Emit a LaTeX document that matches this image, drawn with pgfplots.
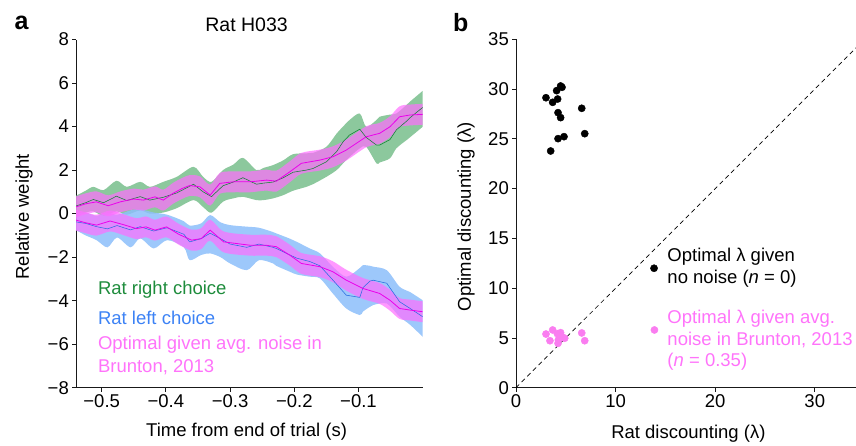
\documentclass[border=0pt]{standalone}
\usepackage{fontspec}
\setmainfont{Liberation Sans}
\usepackage{pgfplots}
\pgfplotsset{compat=1.18}
\usepgfplotslibrary{fillbetween}
\usepackage{pgfplotstable}

\definecolor{gband}{RGB}{120,190,140}
\definecolor{bband}{RGB}{140,190,250}
\definecolor{mband}{RGB}{255,110,255}
\definecolor{gline}{RGB}{20,125,55}
\definecolor{bline}{RGB}{40,110,225}
\definecolor{mline}{RGB}{235,0,235}
\definecolor{gtext}{RGB}{30,140,60}
\definecolor{btext}{RGB}{60,130,245}
\definecolor{mtext}{RGB}{255,115,250}
\definecolor{pdot}{RGB}{250,125,240}
\definecolor{axc}{RGB}{25,25,25}

% Rat right choice: x, upper, lower, mean
\pgfplotstableread{
x u l m
-0.54 0.82 -0.15 0.35
-0.525 1.05 0.05 0.50
-0.513 1.23 0.10 0.65
-0.497 1.08 -0.10 0.50
-0.477 1.51 0.10 0.80
-0.461 1.23 -0.05 0.60
-0.44 1.46 0.15 0.78
-0.425 1.23 0.00 0.62
-0.404 1.46 0.05 0.75
-0.383 1.69 0.25 0.95
-0.357 2.15 0.62 1.35
-0.342 1.69 0.30 1.00
-0.329 1.46 0.04 0.78
-0.311 2.00 0.55 1.28
-0.295 2.25 0.70 1.45
-0.28 2.56 0.77 1.65
-0.259 2.00 0.62 1.35
-0.248 2.10 0.62 1.40
-0.233 2.23 0.70 1.45
-0.217 2.45 0.85 1.65
-0.202 2.73 1.05 1.90
-0.181 2.77 1.23 2.00
-0.171 2.79 1.35 2.07
-0.15 3.07 1.69 2.38
-0.134 3.68 2.00 2.85
-0.124 4.00 2.31 3.30
-0.114 4.30 2.60 3.61
-0.098 4.60 3.00 3.88
-0.088 3.99 3.07 3.50
-0.072 4.30 2.31 3.15
-0.067 4.45 2.35 3.15
-0.051 4.55 2.54 3.40
-0.041 4.60 3.00 3.85
-0.025 5.00 3.38 4.25
-0.02 5.14 3.50 4.40
0 5.64 3.99 4.88
}\greenT

% Rat left choice: x, upper, lower, mean
\pgfplotstableread{
x u l m
-0.54 0.00 -0.76 -0.38
-0.525 0.05 -1.00 -0.45
-0.508 -0.10 -1.22 -0.60
-0.491 0.05 -1.55 -0.70
-0.476 -0.05 -1.10 -0.55
-0.455 0.15 -1.55 -0.75
-0.44 0.20 -1.14 -0.60
-0.419 0.05 -1.60 -0.80
-0.398 -0.05 -1.22 -0.65
-0.372 -0.35 -1.55 -0.95
-0.363 -0.55 -2.14 -1.30
-0.345 -0.45 -1.90 -1.15
-0.331 -0.07 -1.83 -0.90
-0.315 -0.40 -2.00 -1.15
-0.30 -0.53 -2.29 -1.40
-0.274 -0.60 -2.60 -1.55
-0.255 -0.65 -2.14 -1.40
-0.233 -0.85 -2.29 -1.55
-0.228 -0.91 -2.40 -1.60
-0.207 -1.15 -2.67 -1.90
-0.196 -1.30 -2.80 -2.05
-0.176 -1.60 -2.90 -2.20
-0.16 -1.83 -2.98 -2.40
-0.14 -2.44 -3.67 -3.05
-0.119 -2.90 -4.36 -3.75
-0.098 -2.50 -4.66 -3.85
-0.093 -2.37 -4.50 -3.40
-0.082 -2.40 -4.28 -3.10
-0.077 -2.44 -4.20 -3.06
-0.056 -2.60 -4.13 -3.20
-0.036 -3.36 -4.74 -4.05
-0.02 -3.60 -5.10 -4.35
0 -3.98 -5.66 -4.74
}\blueT

% Optimal (right): x, upper, lower, mean
\pgfplotstableread{
x u l m
-0.54 0.79 -0.17 0.31
-0.525 0.93 -0.03 0.45
-0.508 1.02 0.06 0.54
-0.49 0.84 -0.12 0.36
-0.471 1.02 0.06 0.54
-0.45 1.15 0.19 0.67
-0.435 1.10 0.14 0.62
-0.417 1.25 0.29 0.77
-0.404 1.10 0.14 0.62
-0.389 1.41 0.45 0.93
-0.375 1.63 0.67 1.15
-0.363 1.77 0.81 1.29
-0.347 1.71 0.75 1.23
-0.331 1.33 0.37 0.85
-0.316 1.87 0.91 1.39
-0.295 1.94 0.98 1.46
-0.269 1.94 0.98 1.46
-0.243 2.02 1.06 1.54
-0.228 1.97 1.01 1.49
-0.207 2.40 1.44 1.92
-0.189 2.79 1.83 2.31
-0.16 2.94 1.98 2.46
-0.14 3.09 2.13 2.61
-0.119 3.40 2.44 2.92
-0.088 4.01 3.05 3.53
-0.067 4.17 3.21 3.69
-0.051 4.47 3.51 3.99
-0.036 4.93 3.97 4.45
-0.02 5.01 4.05 4.53
0 5.04 4.08 4.56
}\optR

% Optimal (left): x, upper, lower, mean
\pgfplotstableread{
x u l m
-0.54 0.18 -0.78 -0.30
-0.525 0.06 -0.90 -0.42
-0.508 -0.05 -1.01 -0.53
-0.487 0.14 -0.82 -0.34
-0.467 -0.02 -0.98 -0.50
-0.446 -0.21 -1.17 -0.69
-0.431 -0.13 -1.09 -0.61
-0.417 -0.28 -1.24 -0.76
-0.399 -0.13 -1.09 -0.61
-0.38 -0.47 -1.43 -0.95
-0.36 -0.74 -1.70 -1.22
-0.345 -0.67 -1.63 -1.15
-0.331 -0.28 -1.24 -0.76
-0.31 -0.82 -1.78 -1.30
-0.27 -0.97 -1.93 -1.45
-0.245 -0.97 -1.93 -1.45
-0.228 -1.04 -2.00 -1.52
-0.207 -1.43 -2.39 -1.91
-0.189 -1.81 -2.77 -2.29
-0.16 -1.96 -2.92 -2.44
-0.14 -2.19 -3.15 -2.67
-0.119 -2.58 -3.54 -3.06
-0.093 -2.96 -3.92 -3.44
-0.067 -3.19 -4.15 -3.67
-0.051 -3.50 -4.46 -3.98
-0.036 -3.88 -4.84 -4.36
-0.02 -3.95 -4.91 -4.43
0 -4.03 -4.99 -4.51
}\optL

\pgfplotsset{
  panel/.style={
    scale only axis,
    axis x line=bottom, axis y line=left,
    axis line style={-, axc, line width=0.8pt},
    tick align=outside, major tick length=4pt,
    tick style={axc, line width=0.8pt},
    every tick label/.append style={text=black},
    yticklabel style={inner sep=3pt},
    xticklabel style={inner sep=3pt},
  }
}

\begin{document}
\begin{tikzpicture}[font=\fontsize{18.5}{22}\selectfont]

\node[font=\fontsize{25}{29}\selectfont\bfseries, inner sep=0] at (21.7pt,421.7pt) {a};
\node[font=\fontsize{25}{29}\selectfont\bfseries, inner sep=0] at (460.7pt,422.5pt) {b};

% ---------- Panel a ----------
\begin{axis}[panel,
  at={(76pt,57.3pt)}, anchor=south west,
  width=346.7pt, height=348.2pt,
  xmin=-0.54, xmax=0, ymin=-8, ymax=8,
  xtick={-0.5,-0.4,-0.3,-0.2,-0.1},
  xticklabels={−0.5,−0.4,−0.3,−0.2,−0.1},
  ytick={-8,-6,-4,-2,0,2,4,6,8},
  yticklabels={−8,−6,−4,−2,0,2,4,6,8},
  xlabel={Time from end of trial (s)},
  ylabel={Relative weight},
  xlabel style={at={(axis description cs:0.492,-0.1264)}, anchor=center},
  ylabel style={at={(axis description cs:-0.15,0.491)}, anchor=center},
  title={Rat H033},
  title style={at={(axis description cs:0.492,1.0244)}, anchor=center, font=\fontsize{19.5}{23}\selectfont},
]
\addplot[name path=gu, draw=none, smooth] table[x=x,y=u] {\greenT};
\addplot[name path=gl, draw=none, smooth] table[x=x,y=l] {\greenT};
\addplot[fill=gband, fill opacity=0.85, draw=none] fill between[of=gu and gl];
\addplot[name path=bu, draw=none, smooth] table[x=x,y=u] {\blueT};
\addplot[name path=bl, draw=none, smooth] table[x=x,y=l] {\blueT};
\addplot[fill=bband, fill opacity=0.85, draw=none] fill between[of=bu and bl];
\addplot[gline, line width=0.55pt] table[x=x,y=m] {\greenT};
\addplot[bline, line width=0.55pt] table[x=x,y=m] {\blueT};
\addplot[name path=ru, draw=none, smooth] table[x=x,y=u] {\optR};
\addplot[name path=rl, draw=none, smooth] table[x=x,y=l] {\optR};
\addplot[fill=mband, fill opacity=0.7, draw=none] fill between[of=ru and rl];
\addplot[name path=lu, draw=none, smooth] table[x=x,y=u] {\optL};
\addplot[name path=ll, draw=none, smooth] table[x=x,y=l] {\optL};
\addplot[fill=mband, fill opacity=0.7, draw=none] fill between[of=lu and ll];
\addplot[mline, line width=0.8pt] table[x=x,y=m] {\optR};
\addplot[mline, line width=0.8pt] table[x=x,y=m] {\optL};

\node[anchor=west, inner sep=0, text=gtext] at (axis cs:-0.506,-3.52) {Rat right choice};
\node[anchor=west, inner sep=0, text=btext] at (axis cs:-0.506,-4.80) {Rat left choice};
\node[anchor=west, inner sep=0, text=mtext] at (axis cs:-0.506,-6.04) {Optimal given avg. noise in};
\node[anchor=west, inner sep=0, text=mtext] at (axis cs:-0.506,-7.05) {Brunton, 2013};
\end{axis}

% ---------- Panel b ----------
\begin{axis}[panel,
  at={(516pt,57.3pt)}, anchor=south west,
  width=340pt, height=348.4pt,
  xmin=0, xmax=34.14, ymin=0, ymax=35,
  xtick={0,10,20,30},
  ytick={0,5,10,15,20,25,30,35},
  /pgf/number format/assume math mode=true,
  xlabel={Rat discounting (λ)},
  ylabel={Optimal discounting (λ)},
  xlabel style={at={(axis description cs:0.507,-0.131)}, anchor=center},
  ylabel style={at={(axis description cs:-0.147,0.491)}, anchor=center},
]
\addplot[black, dash pattern=on 4.5pt off 3.5pt, line width=0.7pt] coordinates {(0,0) (35,35)};
\addplot[only marks, mark=*, mark size=3.6pt, black] coordinates {
(3.01,29.13) (3.68,28.67) (4.08,29.84) (4.48,30.31) (4.62,30.18)
(4.18,29.00) (4.22,27.63) (4.48,27.13) (6.60,28.07) (6.90,25.52)
(4.22,25.02) (4.82,25.22) (3.48,23.78)
};
\addplot[only marks, mark=*, mark size=3.6pt, pdot, mark options={draw=pdot, fill=pdot}] coordinates {
(3.01,5.39) (3.68,5.80) (3.41,4.72) (4.22,4.46) (4.15,5.43)
(4.48,5.53) (4.69,5.06) (4.89,4.97) (4.25,4.80) (6.60,5.50) (6.90,4.72)
};
\addplot[only marks, mark=*, mark size=3.6pt, black] coordinates {(13.86,12.0)};
\addplot[only marks, mark=*, mark size=3.6pt, pdot, mark options={draw=pdot, fill=pdot}] coordinates {(13.9,5.8)};

\node[anchor=west, inner sep=0] at (axis cs:15.19,13.16) {Optimal λ given};
\node[anchor=west, inner sep=0] at (axis cs:15.19,10.99) {no noise (\textit{n} = 0)};
\node[anchor=west, inner sep=0, text=mtext] at (axis cs:15.19,6.97) {Optimal λ given avg.};
\node[anchor=west, inner sep=0, text=mtext] at (axis cs:15.19,4.79) {noise in Brunton, 2013};
\node[anchor=west, inner sep=0, text=mtext] at (axis cs:15.19,2.61) {(\textit{n} = 0.35)};
\end{axis}
\pgfresetboundingbox
\useasboundingbox (0,0) rectangle (856pt,445pt);
\end{tikzpicture}
\end{document}
